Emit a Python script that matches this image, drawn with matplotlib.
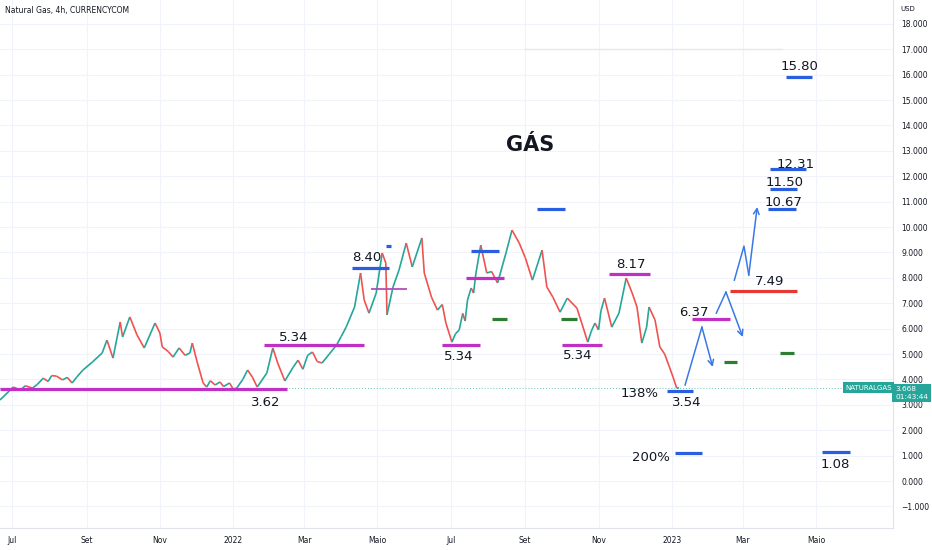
import numpy as np
import pandas as pd
import matplotlib
matplotlib.use('Agg')
import matplotlib.pyplot as plt
import matplotlib.dates as mdates
from matplotlib.collections import LineCollection

# price path (date, price)
priceDates = ['2021-06-21', '2021-07-02', '2021-07-08', '2021-07-12', '2021-07-18', '2021-07-22',
              '2021-07-27', '2021-07-31', '2021-08-03', '2021-08-07', '2021-08-12', '2021-08-16',
              '2021-08-20', '2021-08-24', '2021-08-29', '2021-09-06', '2021-09-14', '2021-09-18',
              '2021-09-23', '2021-09-29', '2021-10-01', '2021-10-07', '2021-10-13', '2021-10-19',
              '2021-10-28', '2021-11-01', '2021-11-03', '2021-11-08', '2021-11-12', '2021-11-17',
              '2021-11-22', '2021-11-26', '2021-11-28', '2021-12-02', '2021-12-07', '2021-12-10',
              '2021-12-13', '2021-12-17', '2021-12-21', '2021-12-24', '2021-12-29', '2022-01-01',
              '2022-01-04', '2022-01-09', '2022-01-13', '2022-01-17', '2022-01-21', '2022-01-29',
              '2022-02-03', '2022-02-07', '2022-02-13', '2022-02-20', '2022-02-24', '2022-02-28',
              '2022-03-04', '2022-03-08', '2022-03-12', '2022-03-16', '2022-03-22', '2022-03-28',
              '2022-04-01', '2022-04-05', '2022-04-12', '2022-04-17', '2022-04-20', '2022-04-24',
              '2022-04-30', '2022-05-05', '2022-05-08', '2022-05-09', '2022-05-14', '2022-05-19',
              '2022-05-25', '2022-05-30', '2022-06-07', '2022-06-09', '2022-06-15', '2022-06-20',
              '2022-06-24', '2022-06-27', '2022-07-02', '2022-07-05', '2022-07-08', '2022-07-11',
              '2022-07-13', '2022-07-15', '2022-07-18', '2022-07-20', '2022-07-22', '2022-07-26',
              '2022-07-31', '2022-08-04', '2022-08-09', '2022-08-16', '2022-08-21', '2022-08-27',
              '2022-09-01', '2022-09-07', '2022-09-15', '2022-09-19', '2022-09-24', '2022-09-30',
              '2022-10-06', '2022-10-14', '2022-10-18', '2022-10-23', '2022-10-26', '2022-10-29',
              '2022-11-01', '2022-11-03', '2022-11-06', '2022-11-12', '2022-11-18', '2022-11-24',
              '2022-11-29', '2022-12-03', '2022-12-07', '2022-12-11', '2022-12-13', '2022-12-18',
              '2022-12-22', '2022-12-26', '2022-12-30', '2023-01-02', '2023-01-05', '2023-01-07']
priceValues = [3.19, 3.70, 3.58, 3.75, 3.66, 3.80,
               4.05, 3.92, 4.15, 4.13, 3.98, 4.08,
               3.86, 4.10, 4.37, 4.69, 5.04, 5.55,
               4.84, 6.26, 5.67, 6.46, 5.75, 5.24,
               6.22, 5.83, 5.28, 5.10, 4.88, 5.24,
               4.95, 5.04, 5.43, 4.69, 3.86, 3.70,
               3.95, 3.78, 3.90, 3.72, 3.86, 3.62,
               3.66, 4.00, 4.37, 4.09, 3.70, 4.25,
               5.24, 4.65, 3.94, 4.49, 4.76, 4.40,
               4.95, 5.08, 4.70, 4.65, 5.00, 5.35,
               5.70, 6.06, 6.85, 8.19, 7.13, 6.61,
               7.40, 8.98, 8.58, 6.54, 7.64, 8.31,
               9.37, 8.43, 9.57, 8.19, 7.24, 6.73,
               6.95, 6.22, 5.47, 5.80, 5.94, 6.60,
               6.30, 7.13, 7.60, 7.40, 8.19, 9.29,
               8.19, 8.25, 7.80, 8.98, 9.88, 9.37,
               8.80, 7.91, 9.09, 7.64, 7.24, 6.65,
               7.20, 6.81, 6.22, 5.47, 5.90, 6.22,
               5.95, 6.70, 7.20, 6.06, 6.61, 7.99,
               7.40, 6.85, 5.43, 6.06, 6.85, 6.34,
               5.28, 5.00, 4.49, 4.09, 3.66, 3.668]
lastPrice = 3.668

# horizontal levels drawn on the chart: (start, end, level, kind)
levelStarts = ['2021-06-21', '2022-01-27', '2022-04-10', '2022-05-08', '2022-04-26', '2022-06-24',
               '2022-07-18', '2022-07-14', '2022-08-04', '2022-09-11', '2022-10-01', '2022-10-02',
               '2022-11-10', '2022-12-28', '2023-01-18', '2023-02-18', '2023-02-13', '2023-04-01',
               '2023-03-22', '2023-03-24', '2023-03-24', '2023-04-06', '2023-01-04', '2023-05-06']
levelEnds = ['2022-02-15', '2022-04-20', '2022-05-11', '2022-05-12', '2022-05-26', '2022-07-25',
             '2022-08-10', '2022-08-14', '2022-08-17', '2022-10-04', '2022-10-14', '2022-11-04',
             '2022-12-14', '2023-01-19', '2023-02-18', '2023-04-15', '2023-02-24', '2023-04-13',
             '2023-04-14', '2023-04-15', '2023-04-23', '2023-04-28', '2023-01-26', '2023-05-29']
levelValues = [3.62, 5.34, 8.40, 9.25, 7.56, 5.34,
               9.06, 8.00, 6.38, 10.71, 6.38, 5.34,
               8.17, 3.54, 6.37, 7.49, 4.68, 5.04,
               10.71, 11.50, 12.28, 15.90, 1.10, 1.14]
levelKinds = ['magenta', 'magenta', 'blue', 'blue', 'thin', 'magenta',
              'blue', 'magenta', 'green', 'blue', 'green', 'magenta',
              'magenta', 'blue', 'magenta', 'red', 'green', 'green',
              'blue', 'blue', 'blue', 'blue', 'blue', 'blue']

# text labels: (text, date, price)
labelTexts = ['3.62', '5.34', '8.40', '5.34', '5.34', '8.17', '138%', '3.54', '6.37', '7.49',
              '10.67', '11.50', '12.31', '15.80', '200%', '1.08']
labelDates = ['2022-01-28', '2022-02-20', '2022-04-22', '2022-07-08', '2022-10-15', '2022-11-28',
              '2022-12-05', '2023-01-13', '2023-01-19', '2023-03-23', '2023-04-04', '2023-04-05',
              '2023-04-14', '2023-04-17', '2022-12-15', '2023-05-17']
labelValues = [3.11, 5.67, 8.82, 4.92, 4.96, 8.54, 3.43, 3.11, 6.65, 7.87,
               10.98, 11.77, 12.48, 16.34, 0.94, 0.67]

# projected zig-zag paths
path1Dates = ['2023-01-12', '2023-01-26', '2023-02-04']
path1Values = [3.78, 6.06, 4.49]
path2Dates = ['2023-02-07', '2023-02-15', '2023-03-01']
path2Values = [6.61, 7.44, 5.67]
path3Dates = ['2023-02-22', '2023-03-02', '2023-03-06', '2023-03-13']
path3Values = [7.91, 9.25, 8.11, 10.79]

monthTicks = ['2021-07-01', '2021-09-01', '2021-11-01', '2022-01-01', '2022-03-01', '2022-05-01',
              '2022-07-01', '2022-09-01', '2022-11-01', '2023-01-01', '2023-03-01', '2023-05-01']
monthLabels = ['Jul', 'Set', 'Nov', '2022', 'Mar', 'Maio', 'Jul', 'Set', 'Nov', '2023', 'Mar', 'Maio']

styles = {
    'magenta': dict(color='#c22fc4', lw=2.3),
    'thin': dict(color='#b54cbb', lw=1.3),
    'blue': dict(color='#2a5ee0', lw=2.3),
    'green': dict(color='#2e7d32', lw=2.3),
    'red': dict(color='#e53935', lw=2.3),
}
axisFont = ['Liberation Sans Narrow', 'DejaVu Sans']


def d(s):
    return mdates.date2num(pd.Timestamp(s))


fig = plt.figure(figsize=(9.32, 5.5), dpi=100)
ax = fig.add_axes([0, 0.04, 893 / 932, 0.96])
ax.set_xlim(d('2021-06-21'), d('2023-07-04'))
ax.set_ylim(-1.85, 18.94)

# grid
for t in range(-1, 19):
    ax.axhline(t, color='#f0f3fa', lw=0.8, zorder=0)
for m in monthTicks:
    ax.axvline(d(m), color='#f0f3fa', lw=0.8, zorder=0)

# price path coloured by direction
xs = [d(s) for s in priceDates]
segs = [[(xs[i], priceValues[i]), (xs[i + 1], priceValues[i + 1])] for i in range(len(xs) - 1)]
cols = ['#26a69a' if priceValues[i + 1] >= priceValues[i] else '#ef5350' for i in range(len(xs) - 1)]
ax.add_collection(LineCollection(segs, colors=cols, linewidths=1.2, zorder=2))
ax.axhline(lastPrice, color='#26a69a', lw=0.7, ls=(0, (1, 2)), alpha=0.7, zorder=1)

# faint line near 17
ax.plot([d('2022-09-01'), d('2023-04-03')], [17.0, 17.0], color='#e6e8ee', lw=1.0, zorder=1)

for s, e, v, k in zip(levelStarts, levelEnds, levelValues, levelKinds):
    ax.plot([d(s), d(e)], [v, v], solid_capstyle='butt', zorder=3, **styles[k])

for t, s, v in zip(labelTexts, labelDates, labelValues):
    ax.text(d(s), v, t, ha='center', va='center', fontsize=9.5, color='#131722', zorder=4)

ax.text(d('2022-09-05'), 13.23, 'GÁS', ha='center', va='center', fontsize=15,
        fontweight='bold', color='#131722')

for pd_, pv in [(path1Dates, path1Values), (path2Dates, path2Values), (path3Dates, path3Values)]:
    px = [d(s) for s in pd_]
    ax.plot(px[:-1], pv[:-1], color='#3b78e7', lw=1.1, zorder=3)
    ax.annotate('', xy=(px[-1], pv[-1]), xytext=(px[-2], pv[-2]),
                arrowprops=dict(arrowstyle='->', color='#3b78e7', lw=1.1,
                                mutation_scale=10, shrinkA=0, shrinkB=0), zorder=3)

# axes styling
ax.yaxis.tick_right()
ax.set_yticks(range(-1, 19))
ax.set_yticklabels(['%.3f' % t if t >= 0 else '\u22121.000' for t in range(-1, 19)],
                   fontsize=5.5, color='#131722', family=axisFont)
ax.set_xticks([d(m) for m in monthTicks])
ax.set_xticklabels(monthLabels, fontsize=5.5, color='#131722', family=axisFont)
ax.tick_params(length=0, pad=6)
for sp in ['top', 'left']:
    ax.spines[sp].set_visible(False)
ax.spines['right'].set_color('#e0e3eb')
ax.spines['bottom'].set_color('#e0e3eb')

# price tags
ax.text(d('2023-07-03'), lastPrice, 'NATURALGAS', ha='right', va='center', fontsize=5,
        color='white', family=axisFont, zorder=5,
        bbox=dict(boxstyle='square,pad=0.35', fc='#26a69a', ec='none'))
fig.text(895 / 932, 1 - 393 / 550, '3.668\n01:43:44', ha='left', va='center', fontsize=5.3,
         color='white', family=axisFont, linespacing=1.3,
         bbox=dict(boxstyle='square,pad=0.35', fc='#26a69a', ec='none'))

fig.text(5 / 932, 1 - 11 / 550, 'Natural Gas, 4h, CURRENCYCOM', ha='left', va='center',
         fontsize=5.5, color='#131722', family=axisFont)
fig.text(900 / 932, 1 - 9 / 550, 'USD', ha='left', va='center', fontsize=5,
         color='#131722', family=axisFont)

fig.savefig('out.png', dpi=100, facecolor='white')
